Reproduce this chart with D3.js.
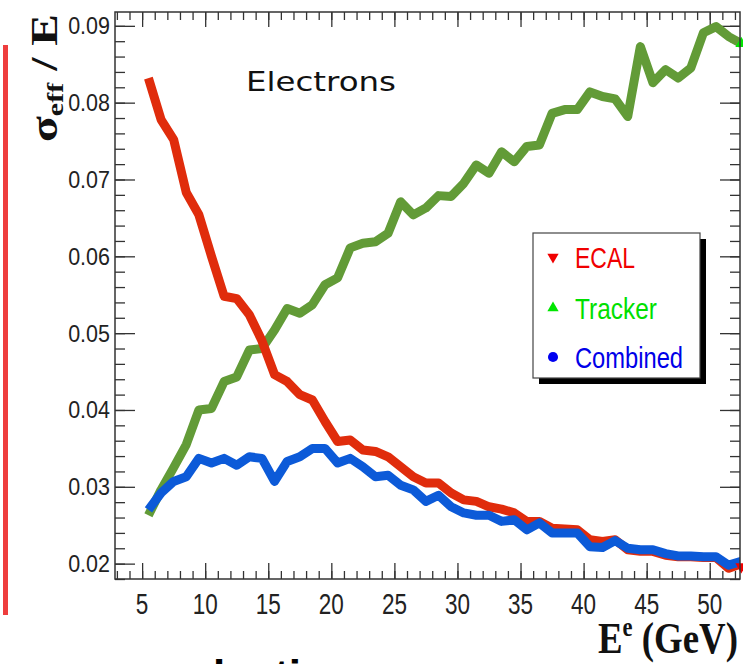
<!DOCTYPE html>
<html>
<head>
<meta charset="utf-8">
<script src="https://cdn.jsdelivr.net/npm/d3@7"></script>
<style>
  body { margin: 0; background: #fff; }
  svg { display: block; }
</style>
</head>
<body>
<svg id="chart" width="743" height="664"></svg>
<script>
// values, one point per GeV bin
const energy = [5.5, 6.5, 7.5, 8.5, 9.5, 10.5, 11.5, 12.5, 13.5, 14.5, 15.5, 16.5,
  17.5, 18.5, 19.5, 20.5, 21.5, 22.5, 23.5, 24.5, 25.5, 26.5, 27.5, 28.5, 29.5,
  30.5, 31.5, 32.5, 33.5, 34.5, 35.5, 36.5, 37.5, 38.5, 39.5, 40.5, 41.5, 42.5,
  43.5, 44.5, 45.5, 46.5, 47.5, 48.5, 49.5, 50.5, 51.5, 52.5];

const ecal = [0.0832, 0.0778, 0.0752, 0.0683, 0.0654, 0.0600, 0.0548, 0.0545,
  0.0524, 0.0490, 0.0446, 0.0437, 0.0420, 0.0413, 0.0385, 0.0359, 0.0361, 0.0348,
  0.0346, 0.0339, 0.0326, 0.0313, 0.0305, 0.0305, 0.0292, 0.0283, 0.0281, 0.0274,
  0.0271, 0.0266, 0.0255, 0.0255, 0.0246, 0.0245, 0.0244, 0.0231, 0.0229, 0.0231,
  0.0218, 0.0216, 0.0216, 0.0211, 0.0209, 0.0209, 0.0208, 0.0208, 0.0194, 0.0200];

const tracker = [0.0263, 0.0296, 0.0325, 0.0355, 0.0400, 0.0402, 0.0437, 0.0443,
  0.0478, 0.0480, 0.0504, 0.0532, 0.0526, 0.0537, 0.0563, 0.0572, 0.0611, 0.0617,
  0.0619, 0.0630, 0.0671, 0.0654, 0.0663, 0.0679, 0.0678, 0.0695, 0.0719, 0.0708,
  0.0736, 0.0723, 0.0743, 0.0745, 0.0786, 0.0791, 0.0791, 0.0814, 0.0808, 0.0805,
  0.0782, 0.0873, 0.0826, 0.0843, 0.0832, 0.0845, 0.0891, 0.0899, 0.0886, 0.0877];

const combined = [0.0270, 0.0292, 0.0307, 0.0313, 0.0337, 0.0331, 0.0337, 0.0328,
  0.0339, 0.0337, 0.0307, 0.0333, 0.0339, 0.0350, 0.0350, 0.0331, 0.0337, 0.0326,
  0.0313, 0.0315, 0.0302, 0.0296, 0.0281, 0.0289, 0.0274, 0.0266, 0.0263, 0.0263,
  0.0255, 0.0257, 0.0244, 0.0253, 0.0240, 0.0240, 0.0240, 0.0222, 0.0221, 0.0230,
  0.0220, 0.0218, 0.0218, 0.0213, 0.0210, 0.0210, 0.0209, 0.0209, 0.0198, 0.0203];

const xTickLabels = [5, 10, 15, 20, 25, 30, 35, 40, 45, 50];
const yTickLabels = [0.02, 0.03, 0.04, 0.05, 0.06, 0.07, 0.08, 0.09];

const svg = d3.select('#chart');

const plot = { left: 115, right: 740, top: 12, bottom: 579 };

const x = d3.scaleLinear().domain([2.85, 52.4]).range([plot.left, plot.right]);
const y = d3.scaleLinear().domain([0.0180, 0.0918]).range([plot.bottom, plot.top]);

const xMinor = d3.range(3, 53, 1);
const yMinor = d3.range(0.018, 0.0918, 0.002);

// red bar from the slide on the far left
svg.append('rect')
  .attr('x', 3).attr('y', 45).attr('width', 5).attr('height', 570)
  .attr('fill', '#ee3d3d');

// ticks, all pointing inside the frame (ROOT style)
function ticks(g, axis) {
  g.call(axis).call((s) => s.select('.domain').remove());
  g.selectAll('line').attr('stroke', '#333').attr('stroke-width', 1.3);
  g.selectAll('text').remove();
}

svg.append('g').attr('transform', `translate(0,${plot.bottom})`)
  .call(ticks, d3.axisBottom(x).tickValues(xMinor).tickSize(-8));
svg.append('g').attr('transform', `translate(0,${plot.bottom})`)
  .call(ticks, d3.axisBottom(x).tickValues(xTickLabels).tickSize(-16));
svg.append('g').attr('transform', `translate(0,${plot.top})`)
  .call(ticks, d3.axisTop(x).tickValues(xMinor).tickSize(-8));
svg.append('g').attr('transform', `translate(0,${plot.top})`)
  .call(ticks, d3.axisTop(x).tickValues(xTickLabels).tickSize(-15));

svg.append('g').attr('transform', `translate(${plot.left},0)`)
  .call(ticks, d3.axisLeft(y).tickValues(yMinor).tickSize(-10));
svg.append('g').attr('transform', `translate(${plot.left},0)`)
  .call(ticks, d3.axisLeft(y).tickValues(yTickLabels).tickSize(-20));
svg.append('g').attr('transform', `translate(${plot.right},0)`)
  .call(ticks, d3.axisRight(y).tickValues(yMinor).tickSize(-10));
svg.append('g').attr('transform', `translate(${plot.right},0)`)
  .call(ticks, d3.axisRight(y).tickValues(yTickLabels).tickSize(-20));

// tick labels (the slide stretched them a bit vertically)
svg.append('g').selectAll('text')
  .data(xTickLabels)
  .join('text')
  .attr('transform', (d) => `translate(${x(d)},614) scale(1,1.28)`)
  .attr('text-anchor', 'middle')
  .attr('font-family', 'Liberation Sans, Arial, sans-serif')
  .attr('font-size', 22.5)
  .attr('fill', '#222')
  .text((d) => d);

svg.append('g').selectAll('text')
  .data(yTickLabels)
  .join('text')
  .attr('transform', (d) => `translate(110,${y(d) + 8.5}) scale(1,1.12)`)
  .attr('text-anchor', 'end')
  .attr('font-family', 'Liberation Sans, Arial, sans-serif')
  .attr('font-size', 21.5)
  .attr('fill', '#222')
  .text((d) => d.toFixed(2));

// series
const series = [
  { name: 'Tracker', values: tracker, line: '#629b37', mark: '#00e600', text: '#00e000' },
  { name: 'ECAL', values: ecal, line: '#e02c0c', mark: '#f00000', text: '#f00000' },
  { name: 'Combined', values: combined, line: '#0c5ad8', mark: '#0000f0', text: '#0000e8' }
];

svg.append('clipPath').attr('id', 'frame-clip')
  .append('rect')
  .attr('x', plot.left).attr('y', plot.top)
  .attr('width', plot.right - plot.left).attr('height', plot.bottom - plot.top);

const line = d3.line()
  .x((d, i) => x(energy[i]))
  .y((d) => y(d));

const lines = svg.append('g').attr('clip-path', 'url(#frame-clip)');
series.forEach((s) => {
  lines.append('path')
    .attr('d', line(s.values))
    .attr('fill', 'none')
    .attr('stroke', s.line)
    .attr('stroke-width', 9)
    .attr('stroke-linejoin', 'round');
});

// last markers peeking out at the right edge
const tri = d3.symbol().type(d3.symbolTriangle).size(60);
const last = energy.length - 1;
svg.append('path')
  .attr('d', tri())
  .attr('transform', `translate(${x(energy[last])},${y(tracker[last])})`)
  .attr('fill', series[0].mark);
svg.append('path')
  .attr('d', tri())
  .attr('transform', `translate(${x(energy[last])},${y(ecal[last]) + 3}) rotate(180)`)
  .attr('fill', series[1].mark);

// frame
svg.append('rect')
  .attr('x', plot.left).attr('y', plot.top)
  .attr('width', plot.right - plot.left).attr('height', plot.bottom - plot.top)
  .attr('fill', 'none')
  .attr('stroke', '#333')
  .attr('stroke-width', 1.5);

// legend box with black shadow
const legend = { x: 533, y: 233, w: 167, h: 145 };
svg.append('rect')
  .attr('x', legend.x + 6).attr('y', legend.y + 6)
  .attr('width', legend.w).attr('height', legend.h)
  .attr('fill', '#000');
svg.append('rect')
  .attr('x', legend.x).attr('y', legend.y)
  .attr('width', legend.w).attr('height', legend.h)
  .attr('fill', '#fff')
  .attr('stroke', '#444')
  .attr('stroke-width', 1.2);

const legendRows = [
  { s: series[1], base: 268, symbol: d3.symbolTriangle, rot: 180, len: 60 },
  { s: series[0], base: 319, symbol: d3.symbolTriangle, rot: 0, len: 82 },
  { s: series[2], base: 368, symbol: d3.symbolCircle, rot: 0, len: 108 }
];

legendRows.forEach((r) => {
  svg.append('path')
    .attr('d', d3.symbol().type(r.symbol).size(r.symbol === d3.symbolCircle ? 80 : 55)())
    .attr('transform', `translate(553,${r.base - 11}) rotate(${r.rot})`)
    .attr('fill', r.s.mark);
  svg.append('text')
    .attr('transform', `translate(575,${r.base}) scale(1,1.2)`)
    .attr('font-family', 'Liberation Sans, Arial, sans-serif')
    .attr('font-size', 24)
    .attr('textLength', r.len)
    .attr('lengthAdjust', 'spacingAndGlyphs')
    .attr('fill', r.s.text)
    .text(r.s.name);
});

// "Electrons" note
svg.append('text')
  .attr('x', 246).attr('y', 91)
  .attr('font-family', 'DejaVu Sans, sans-serif')
  .attr('font-size', 27)
  .attr('textLength', 150)
  .attr('lengthAdjust', 'spacingAndGlyphs')
  .attr('fill', '#111')
  .text('Electrons');

// axis titles
const yTitle = svg.append('text')
  .attr('transform', 'translate(57,142) rotate(-90)')
  .attr('font-family', 'Liberation Serif, Times New Roman, serif')
  .attr('font-weight', 'bold')
  .attr('font-size', 38)
  .attr('fill', '#111')
  .attr('textLength', 128)
  .attr('lengthAdjust', 'spacingAndGlyphs');
yTitle.append('tspan').text('σ');
yTitle.append('tspan').attr('font-size', 24).attr('dy', 6).text('eff');
yTitle.append('tspan').attr('dy', -6).text(' / E');

const xTitle = svg.append('text')
  .attr('transform', 'translate(598,653) scale(1,1.22)')
  .attr('font-family', 'Liberation Serif, Times New Roman, serif')
  .attr('font-weight', 'bold')
  .attr('font-size', 36)
  .attr('fill', '#111')
  .attr('textLength', 140)
  .attr('lengthAdjust', 'spacingAndGlyphs');
xTitle.append('tspan').text('E');
xTitle.append('tspan').attr('font-size', 22).attr('dy', -14).text('e');
xTitle.append('tspan').attr('dy', 14).text(' (GeV)');

// top of the next slide line, cut by the picture edge
svg.append('text')
  .attr('x', 213).attr('y', 691)
  .attr('font-family', 'Liberation Sans, Arial, sans-serif')
  .attr('font-weight', 'bold')
  .attr('font-size', 44)
  .attr('fill', '#000')
  .text('lection');
</script>
</body>
</html>
